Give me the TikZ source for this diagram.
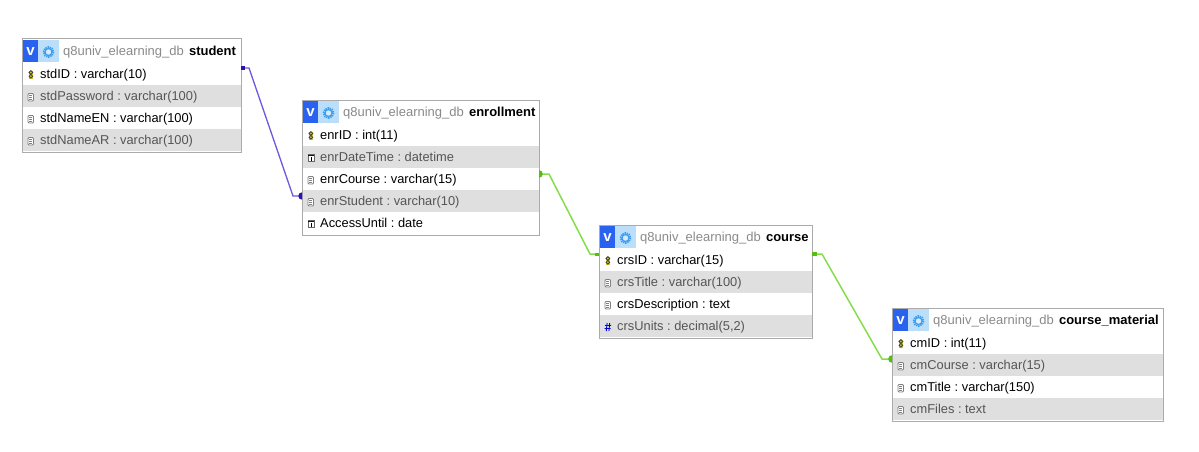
\documentclass[tikz,border=0pt]{standalone}
\usepackage{fontspec}
\setmainfont{Liberation Sans}
\frenchspacing
\definecolor{frame}{HTML}{ABABAB}
\definecolor{shade}{HTML}{DFDFDF}
\definecolor{dbgray}{HTML}{8A8A8A}
\definecolor{rowgray}{HTML}{555555}
\definecolor{vblue}{HTML}{2A62F0}
\definecolor{gearbg}{HTML}{BBDFFB}
\definecolor{gearfg}{HTML}{3A9BEE}
\definecolor{purpleline}{HTML}{6A5AE0}
\definecolor{purpleend}{HTML}{2A10B8}
\definecolor{greenline}{HTML}{84DD4A}
\definecolor{greenend}{HTML}{55BE10}
\tikzset{
 x=1pt,y=-1pt,
 rowbox/.style={rectangle,inner sep=0,outer sep=0,anchor=north west,minimum height=22pt},
 rowtext/.style={anchor=base west,inner sep=0,font=\fontsize{12.85}{15}\selectfont},
 headtext/.style={anchor=base west,inner sep=0,font=\fontsize{13}{15}\selectfont},
 frameline/.style={draw=frame,line width=1pt},
 plink/.style={draw=purpleline,line width=1.3pt},
 glink/.style={draw=greenline,line width=1.5pt},
}
\newcommand{\iconkey}[2]{%
 \fill[yellow!80!black] (#1+1.3,#2-3.5) rectangle (#1+5.5,#2+4);
 \draw[black!75,line width=.8pt] (#1+3.4,#2-2) circle (1.9);
 \draw[black!75,line width=.8pt] (#1+3.4,#2+1.8) circle (1.8);}
\newcommand{\icondoc}[2]{%
 \draw[black!50,fill=white,line width=.8pt,rounded corners=1pt] (#1+.5,#2-3) rectangle (#1+6,#2+4.5);
 \draw[black!50,line width=.6pt] (#1+1.8,#2-.8) -- (#1+4.7,#2-.8) (#1+1.8,#2+1) -- (#1+4.7,#2+1) (#1+1.8,#2+2.7) -- (#1+4.7,#2+2.7);}
\newcommand{\icondate}[2]{%
 \draw[black!60,fill=white,line width=.6pt] (#1+.5,#2-3) rectangle (#1+6.5,#2+4);
 \fill[blue!75!black] (#1+.5,#2-3) rectangle (#1+6.5,#2-1.3);
 \draw[black,line width=.7pt] (#1+3.6,#2-.5) -- (#1+3.6,#2+3);}
\newcommand{\iconhash}[2]{%
 \draw[blue!85!black,line width=.9pt] (#1+2.6,#2-3.5) -- (#1+1.8,#2+4.5) (#1+5.2,#2-3.5) -- (#1+4.4,#2+4.5) (#1+.5,#2-1) -- (#1+6.5,#2-1) (#1+.2,#2+2) -- (#1+6.2,#2+2);}
\newcommand{\tablerow}[8]{%
 \node[rowbox,minimum width=#4pt,fill=#6] (#1) at (#2,#3) {};
 \csname icon#7\endcsname{#2+5.5}{#3+11.5}
 \node[rowtext,text=#5] (#1-t) at (#2+18,#3+15.5) {#8};}
\newcommand{\tablehead}[6]{%
 \node[rowbox,minimum width=#4pt,minimum height=24pt,fill=white] (#1) at (#2,#3) {};
 \fill[vblue] (#2+1,#3+1) rectangle (#2+16,#3+23);
 \fill[gearbg] (#2+16,#3+1) rectangle (#2+37,#3+23);
 \node[inner sep=0,text=white,font=\fontsize{15}{16}\bfseries\selectfont] (#1-v) at (#2+8.5,#3+13) {v};
 \draw[gearfg,line width=1.8pt,dash pattern=on 1.3pt off .9pt] (#2+26.5,#3+13) circle (5);
 \draw[gearfg,fill=gearbg!60!white,line width=1.2pt] (#2+26.5,#3+13) circle (3.5);
 \node[headtext,text=dbgray] (#1-t) at (#2+41,#3+16.5) {#5\hspace{1.5pt} {\color{black}\bfseries #6}};}
\begin{document}
\begin{tikzpicture}
\useasboundingbox[fill=white] (0,0) rectangle (1199,452);
\tablehead{student}{22}{39}{219}{q8univ\_elearning\_db}{student}
\tablerow{stdID}{22}{63}{219}{black}{white}{key}{stdID : varchar(10)}
\tablerow{stdPassword}{22}{85}{219}{rowgray}{shade}{doc}{stdPassword : varchar(100)}
\tablerow{stdNameEN}{22}{107}{219}{black}{white}{doc}{stdNameEN : varchar(100)}
\tablerow{stdNameAR}{22}{129}{219}{rowgray}{shade}{doc}{stdNameAR : varchar(100)}
\draw[frameline] (22,39) rectangle (241,152);
\tablehead{enrollment}{302}{100}{237}{q8univ\_elearning\_db}{enrollment}
\tablerow{enrID}{302}{124}{237}{black}{white}{key}{enrID : int(11)}
\tablerow{enrDateTime}{302}{146}{237}{rowgray}{shade}{date}{enrDateTime : datetime}
\tablerow{enrCourse}{302}{168}{237}{black}{white}{doc}{enrCourse : varchar(15)}
\tablerow{enrStudent}{302}{190}{237}{rowgray}{shade}{doc}{enrStudent : varchar(10)}
\tablerow{AccessUntil}{302}{212}{237}{black}{white}{date}{AccessUntil : date}
\draw[frameline] (302,100) rectangle (539,235);
\tablehead{course}{599}{225}{213}{q8univ\_elearning\_db}{course}
\tablerow{crsID}{599}{249}{213}{black}{white}{key}{crsID : varchar(15)}
\tablerow{crsTitle}{599}{271}{213}{rowgray}{shade}{doc}{crsTitle : varchar(100)}
\tablerow{crsDescription}{599}{293}{213}{black}{white}{doc}{crsDescription : text}
\tablerow{crsUnits}{599}{315}{213}{rowgray}{shade}{hash}{crsUnits : decimal(5,2)}
\draw[frameline] (599,225) rectangle (812,338);
\tablehead{material}{892}{308}{271}{q8univ\_elearning\_db}{course\_material}
\tablerow{cmID}{892}{332}{271}{black}{white}{key}{cmID : int(11)}
\tablerow{cmCourse}{892}{354}{271}{rowgray}{shade}{doc}{cmCourse : varchar(15)}
\tablerow{cmTitle}{892}{376}{271}{black}{white}{doc}{cmTitle : varchar(150)}
\tablerow{cmFiles}{892}{398}{271}{rowgray}{shade}{doc}{cmFiles : text}
\draw[frameline] (892,308) rectangle (1163,421);
% connector ends, on the named rows
\coordinate (p1) at ([shift={(0,-6)}]stdID.east);
\coordinate (p2) at ([shift={(0,-5)}]enrStudent.west);
\coordinate (g1) at ([shift={(0,-5)}]enrCourse.east);
\coordinate (g2) at ([shift={(0,-6)}]crsID.west);
\coordinate (g3) at ([shift={(0,-6)}]crsID.east);
\coordinate (g4) at ([shift={(0,-6)}]cmCourse.west);
\draw[plink] (p1) -- ++(8,0) -- ([shift={(-9,0)}]p2) -- (p2);
\fill[purpleend] ([shift={(0,-1.7)}]p1) rectangle ([shift={(4,1.7)}]p1);
\fill[purpleend] ([shift={(0,-3.7)}]p2) arc (270:90:3.7) -- cycle;
\draw[glink] (g1) -- ++(10,0) -- ([shift={(-9,0)}]g2) -- (g2);
\fill[greenend] ([shift={(0,-3.8)}]g1) arc (-90:90:3.8) -- cycle;
\fill[greenend] ([shift={(-4,-1.5)}]g2) rectangle ([shift={(0,1.5)}]g2);
\draw[glink] (g3) -- ++(10,0) -- ([shift={(-10,0)}]g4) -- (g4);
\fill[greenend] ([shift={(0,-1.7)}]g3) rectangle ([shift={(5,1.7)}]g3);
\fill[greenend] ([shift={(0,-3.8)}]g4) arc (270:90:3.8) -- cycle;
\end{tikzpicture}
\end{document}
